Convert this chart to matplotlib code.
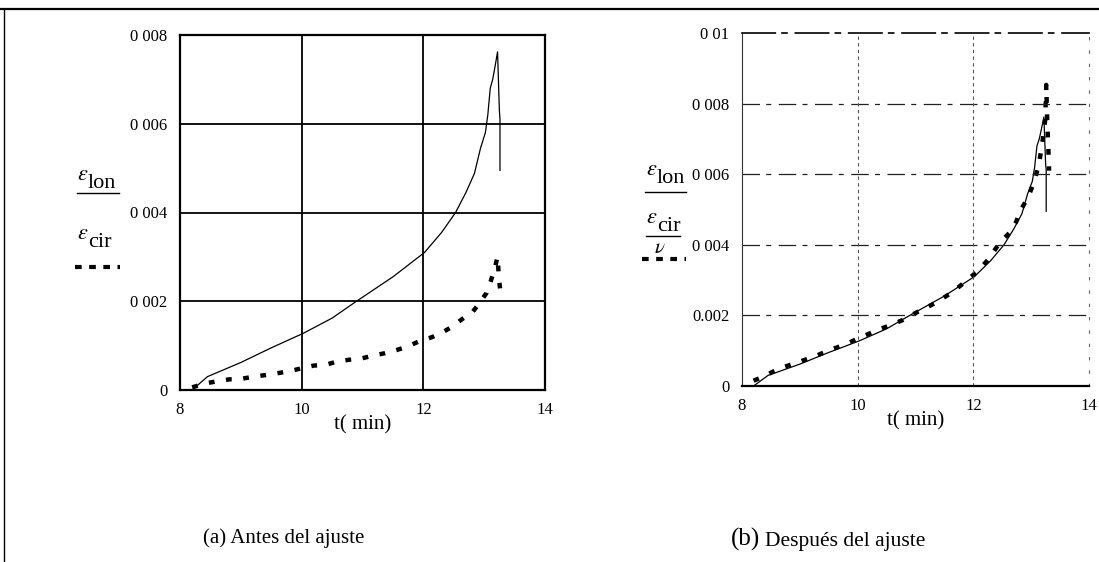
import matplotlib
matplotlib.use("Agg")
import matplotlib.pyplot as plt
from matplotlib.lines import Line2D
import numpy as np

plt.rcParams['font.family'] = ['Liberation Serif', 'DejaVu Serif']
plt.rcParams['mathtext.fontset'] = 'stix'

# longitudinal strain (same record in both panels)
t_lon = [8.20, 8.45, 9.00, 9.50, 10.03, 10.50, 10.89, 11.50, 12.02, 12.30,
         12.53, 12.70, 12.84, 12.94, 13.02, 13.06, 13.10, 13.14, 13.18, 13.22,
         13.25, 13.26, 13.26]
eps_lon = [0.00, 0.30, 0.62, 0.95, 1.28, 1.62, 1.99, 2.55, 3.10, 3.55,
           4.00, 4.45, 4.88, 5.45, 5.80, 6.20, 6.80, 7.00, 7.30, 7.62,
           6.30, 6.10, 4.95]

# circumferential strain, raw
t_cir = [8.20, 8.42, 8.63, 8.81, 9.00, 9.21, 9.42, 9.61, 9.82, 10.00,
         10.20, 10.40, 10.58, 10.77, 10.98, 11.16, 11.37, 11.56, 11.74, 11.92,
         12.14, 12.29, 12.48, 12.64, 12.81, 12.93, 13.04, 13.11, 13.17, 13.22,
         13.24, 13.26]
eps_cir = [0.06, 0.15, 0.20, 0.24, 0.25, 0.30, 0.34, 0.38, 0.43, 0.49,
           0.55, 0.57, 0.64, 0.68, 0.71, 0.77, 0.83, 0.90, 0.98, 1.09,
           1.19, 1.28, 1.43, 1.60, 1.76, 1.97, 2.19, 2.46, 2.72, 3.00,
           2.59, 2.29]

# circumferential strain divided by Poisson ratio
t_adj = [8.20, 8.36, 8.54, 8.71, 8.91, 9.12, 9.29, 9.47, 9.64, 9.83,
         10.01, 10.21, 10.38, 10.58, 10.78, 10.93, 11.10, 11.27, 11.44, 11.62,
         11.79, 11.93, 12.10, 12.25, 12.45, 12.62, 12.74, 12.82, 12.94, 13.02,
         13.08, 13.13, 13.17, 13.20, 13.22, 13.25, 13.25, 13.26, 13.26, 13.28,
         13.30, 13.31]
eps_adj = [0.15, 0.26, 0.41, 0.53, 0.64, 0.76, 0.86, 0.99, 1.09, 1.21,
           1.35, 1.49, 1.61, 1.73, 1.87, 2.01, 2.15, 2.29, 2.45, 2.64,
           2.86, 3.05, 3.29, 3.57, 4.04, 4.33, 4.65, 4.99, 5.32, 5.65,
           5.95, 6.26, 6.64, 6.97, 7.25, 7.63, 7.96, 8.24, 8.53, 7.40,
           6.60, 6.10]

x_ticks = [8, 10, 12, 14]
y_ticks_a = [0, 0.002, 0.004, 0.006, 0.008]
y_labels_a = ['0', '0 002', '0 004', '0 006', '0 008']
y_ticks_b = [0, 0.002, 0.004, 0.006, 0.008, 0.01]
y_labels_b = ['0', '0.002', '0 004', '0 006', '0 008', '0 01']

W, H = 1099, 562
fig = plt.figure(figsize=(W / 100, H / 100), dpi=100)


def box(x0, y0, x1, y1):
    return [x0 / W, 1 - y1 / H, (x1 - x0) / W, (y1 - y0) / H]


def fx(x):
    return x / W


def fy(y):
    return 1 - y / H


dots = (0, (1.3, 2.6))
key_dots = (0, (1.6, 1.8))

# ---- (a) before adjustment
ax1 = fig.add_axes(box(180, 35, 545, 390))
ax1.plot(t_lon, np.array(eps_lon) * 1e-3, color='black', lw=0.9)
ax1.plot(t_cir, np.array(eps_cir) * 1e-3, color='black', lw=3.2,
         linestyle=dots, dash_capstyle='butt')
ax1.set_xlim(8, 14)
ax1.set_ylim(0, 0.008)
ax1.set_xticks(x_ticks)
ax1.set_xticklabels([str(v) for v in x_ticks])
ax1.set_yticks(y_ticks_a)
ax1.set_yticklabels(y_labels_a)
ax1.grid(True, color='black', lw=1.3)
for s in ax1.spines.values():
    s.set_linewidth(1.6)
ax1.tick_params(length=0, labelsize=12, pad=9)
ax1.set_xlabel('t( min)', fontsize=15, labelpad=-2)

# ---- (b) after adjustment
ax2 = fig.add_axes(box(742, 33, 1089, 386))
ax2.plot(t_lon, np.array(eps_lon) * 1e-3, color='black', lw=0.9)
ax2.plot(t_adj, np.array(eps_adj) * 1e-3, color='black', lw=3.2,
         linestyle=dots, dash_capstyle='butt')
ax2.set_xlim(8, 14)
ax2.set_ylim(0, 0.01)
ax2.set_xticks(x_ticks)
ax2.set_xticklabels([str(v) for v in x_ticks])
ax2.set_yticks(y_ticks_b)
ax2.set_yticklabels(y_labels_b)
for y in y_ticks_b[1:-1]:
    ax2.axhline(y, color='#222222', lw=0.9, linestyle=(0, (14, 5, 4, 6)))
for x in x_ticks[1:-1]:
    ax2.axvline(x, color='#555555', lw=0.8, linestyle=(0, (3, 3)))
ax2.spines['top'].set_linestyle((0, (20, 4, 3, 5)))
ax2.spines['top'].set_linewidth(1.2)
ax2.spines['left'].set_linestyle((0, (2, 1)))
ax2.spines['left'].set_color('#333333')
ax2.spines['right'].set_linestyle((0, (2, 10)))
ax2.spines['right'].set_color('#666666')
ax2.spines['bottom'].set_linewidth(1.6)
ax2.tick_params(length=0, labelsize=12, pad=9)
ax2.set_xlabel('t( min)', fontsize=15, labelpad=-2)


def key_label(x, y, sub):
    # script epsilon followed by a full-size subscript word
    fig.text(fx(x), fy(y - 8), r'$\varepsilon$', fontsize=16,
             ha='left', va='baseline')
    fig.text(fx(x + 11), fy(y), sub, fontsize=16, ha='left', va='baseline')


# ---- trace keys at the left of each panel
key_label(77, 188, 'lon')
fig.add_artist(Line2D([fx(77), fx(119)], [fy(193), fy(193)],
                      color='black', lw=1.0))
key_label(77, 247, 'cir')
fig.add_artist(Line2D([fx(75), fx(120)], [fy(267), fy(267)], color='black',
                      lw=3.0, linestyle=key_dots, dash_capstyle='butt'))

key_label(646, 183, 'lon')
fig.add_artist(Line2D([fx(645), fx(686)], [fy(192), fy(192)],
                      color='black', lw=1.0))
key_label(646, 231, 'cir')
fig.add_artist(Line2D([fx(646), fx(680)], [fy(236), fy(236)],
                      color='black', lw=1.0))
fig.text(fx(660), fy(253), r'$\nu$', fontsize=15, ha='center', va='baseline')
fig.add_artist(Line2D([fx(642), fx(686)], [fy(259), fy(259)], color='black',
                      lw=3.0, linestyle=key_dots, dash_capstyle='butt'))

# ---- captions
fig.text(fx(203), fy(543), '(a) Antes del ajuste', fontsize=15,
         ha='left', va='baseline')
fig.text(fx(731), fy(546), '(b)', fontsize=18, ha='left', va='baseline')
fig.text(fx(765), fy(546), 'Después del ajuste', fontsize=15.5,
         ha='left', va='baseline')

# ---- page frame
fig.add_artist(Line2D([0, 1], [fy(9), fy(9)], color='black', lw=1.6))
fig.add_artist(Line2D([fx(4), fx(4)], [fy(9), 0], color='black', lw=1.0))

fig.savefig('out.png', dpi=100)
